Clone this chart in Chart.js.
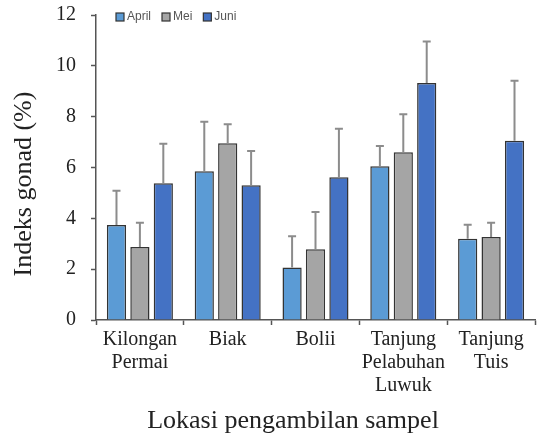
<!DOCTYPE html>
<html>
<head>
<meta charset="utf-8">
<script src="https://cdn.jsdelivr.net/npm/chart.js@4"></script>
<style>
  html, body { margin: 0; padding: 0; background: #fff; }
  #wrap { width: 537px; height: 439px; }
</style>
</head>
<body>
<div id="wrap"><canvas id="gonadChart" width="537" height="439"></canvas></div>
<script>
// data
const locations = [['Kilongan', 'Permai'], ['Biak'], ['Bolii'], ['Tanjung', 'Pelabuhan', 'Luwuk'], ['Tanjung', 'Tuis']];
const april = [3.74, 5.85, 2.07, 6.05, 3.2];
const mei = [2.87, 6.95, 2.78, 6.6, 3.27];
const juni = [5.38, 5.3, 5.62, 9.32, 7.05];
// standard deviations (upper whisker only)
const aprilSd = [1.35, 1.95, 1.23, 0.8, 0.55];
const meiSd = [0.96, 0.75, 1.47, 1.5, 0.56];
const juniSd = [1.55, 1.35, 1.9, 1.64, 2.36];
const yTicks = [0, 2, 4, 6, 8, 10, 12];
const xTitle = 'Lokasi pengambilan sampel';
const yTitle = 'Indeks gonad (%)';

const serif = "'Liberation Serif', 'DejaVu Serif', serif";
const sans = "'Liberation Sans', Arial, sans-serif";

// draws the upper error bars from each bar top
const errorBars = {
    id: 'errorBars',
    afterDatasetsDraw(chart) {
        const ctx = chart.ctx;
        const yScale = chart.scales.y;
        chart.data.datasets.forEach((ds, i) => {
            const meta = chart.getDatasetMeta(i);
            meta.data.forEach((bar, j) => {
                const top = yScale.getPixelForValue(ds.data[j] + ds.sd[j]);
                const base = yScale.getPixelForValue(ds.data[j]);
                ctx.save();
                ctx.strokeStyle = '#8c8c8c';
                ctx.lineWidth = 2;
                ctx.beginPath();
                ctx.moveTo(bar.x, base);
                ctx.lineTo(bar.x, top);
                ctx.moveTo(bar.x - 4, top);
                ctx.lineTo(bar.x + 4, top);
                ctx.stroke();
                ctx.restore();
            });
        });
    }
};

// horizontal legend inside the plot + the two axis titles
const extras = {
    id: 'extras',
    afterDraw(chart) {
        const ctx = chart.ctx;
        const area = chart.chartArea;
        ctx.save();
        // legend
        ctx.font = '12px ' + sans;
        ctx.textBaseline = 'middle';
        let x = area.left + 20;
        const y = area.top + 2;
        chart.data.datasets.forEach(ds => {
            ctx.fillStyle = ds.backgroundColor;
            ctx.fillRect(x, y - 4, 8, 8);
            ctx.strokeStyle = '#333';
            ctx.lineWidth = 1.2;
            ctx.strokeRect(x, y - 4, 8, 8);
            ctx.fillStyle = '#555';
            ctx.textAlign = 'left';
            ctx.fillText(ds.label, x + 11, y);
            x += 11 + ctx.measureText(ds.label).width + 11;
        });
        // x title
        ctx.fillStyle = '#222';
        ctx.font = '26px ' + serif;
        ctx.textAlign = 'center';
        ctx.textBaseline = 'middle';
        ctx.fillText(xTitle, 293, 421);
        // y title
        ctx.translate(24, 184);
        ctx.rotate(-Math.PI / 2);
        ctx.fillText(yTitle, 0, 0);
        ctx.restore();
    }
};

const ctx = document.getElementById('gonadChart').getContext('2d');
new Chart(ctx, {
    type: 'bar',
    data: {
        labels: locations,
        datasets: [
            { label: 'April', data: april, sd: aprilSd, backgroundColor: '#5b9bd5' },
            { label: 'Mei', data: mei, sd: meiSd, backgroundColor: '#a5a5a5' },
            { label: 'Juni', data: juni, sd: juniSd, backgroundColor: '#4472c4' }
        ].map(d => Object.assign(d, {
            borderColor: '#333',
            borderWidth: 1.5,
            categoryPercentage: 0.8,
            barPercentage: 0.82
        }))
    },
    options: {
        responsive: false,
        animation: false,
        layout: { padding: { top: 15, right: 2, left: 0, bottom: 0 } },
        plugins: {
            legend: { display: false },
            tooltip: { enabled: false }
        },
        scales: {
            x: {
                grid: { display: true, drawOnChartArea: false, offset: true, color: '#555', tickLength: 5, tickWidth: 1.5 },
                border: { color: '#555', width: 1.5 },
                ticks: {
                    color: '#222',
                    padding: 3,
                    maxRotation: 0,
                    autoSkip: false,
                    font: { family: serif, size: 20, lineHeight: 1.15 }
                },
                afterFit(scale) { scale.height = 119; }
            },
            y: {
                min: 0,
                max: 12,
                afterBuildTicks(scale) { scale.ticks = yTicks.map(v => ({ value: v })); },
                grid: { display: true, drawOnChartArea: false, color: '#555', tickLength: 5, tickWidth: 1.5 },
                border: { color: '#555', width: 1.5 },
                ticks: {
                    color: '#222',
                    padding: 15,
                    font: { family: serif, size: 20 }
                },
                afterFit(scale) {
                    scale.width = 96;
                    scale.paddingTop = 0;
                    scale.paddingBottom = 0;
                }
            }
        }
    },
    plugins: [errorBars, extras]
});
</script>
</body>
</html>
